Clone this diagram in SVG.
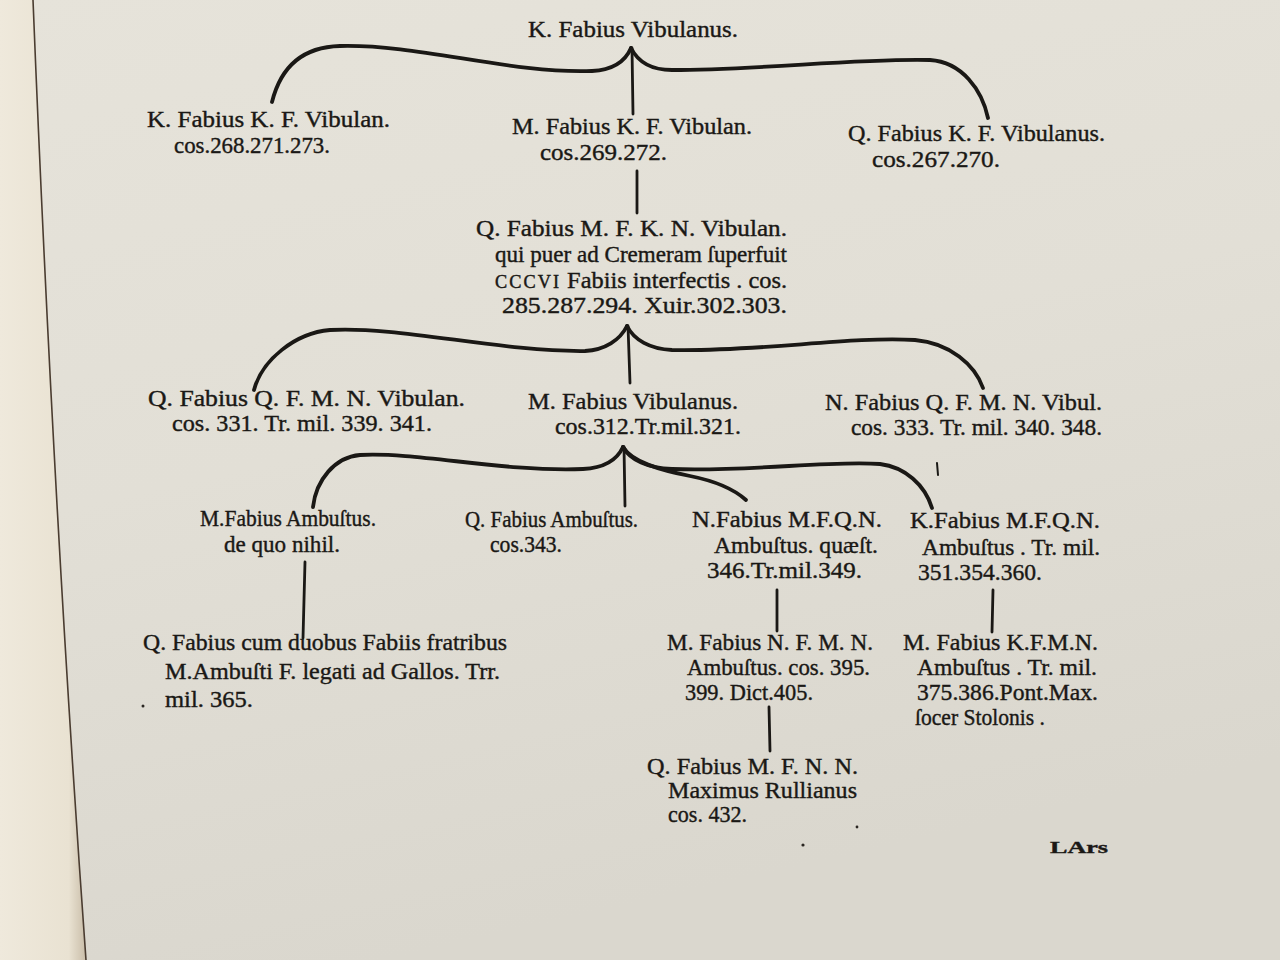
<svg xmlns="http://www.w3.org/2000/svg" width="1280" height="960" viewBox="0 0 1280 960">
<defs>
<linearGradient id="paper" x1="0" y1="0" x2="0.3" y2="1">
<stop offset="0" stop-color="#e6e3da"/>
<stop offset="0.5" stop-color="#e2dfd6"/>
<stop offset="1" stop-color="#dad7ce"/>
</linearGradient>
<linearGradient id="leftpage" x1="0" y1="0" x2="1" y2="0">
<stop offset="0" stop-color="#efe9dc"/>
<stop offset="0.8" stop-color="#e9e2d2"/>
<stop offset="1" stop-color="#c9bda8"/>
</linearGradient>
<style>
.t{font-family:"Liberation Serif","Times New Roman",serif;font-size:24px;fill:#1a1815;stroke:#1a1815;stroke-width:0.4}
.sc{font-size:18px;letter-spacing:2px}
.c{fill:none;stroke:#1a1815;stroke-linecap:round;stroke-linejoin:round}
.br{stroke-width:3.8}
.v{stroke-width:2.8}
.mark{fill:#2a2622}
</style>
</defs>
<rect width="1280" height="960" fill="url(#paper)"/>
<path d="M0,0 L33,0 C45,300 60,600 86,960 L0,960 Z" fill="url(#leftpage)"/>
<path d="M33,0 C45,300 60,600 86,960" fill="none" stroke="#4a3c30" stroke-width="1.6"/>

<g id="connectors">
<path class="c br" d="M631,48 C625,62 612,70 592,71 C510,74 420,44 340,46 C300,47 280,70 272,102"/>
<path class="c br" d="M631,48 C638,62 652,70 672,70 C760,70 860,58 930,60 C962,62 982,90 988,118"/>
<path class="c v" d="M632,48 L633,114"/>
<path class="c v" d="M637,171 L637,213"/>
<path class="c br" d="M627,326 C620,340 605,350 585,351 C500,352 400,326 330,330 C295,333 262,360 254,390"/>
<path class="c br" d="M627,326 C634,340 650,349 672,350 C760,352 850,336 915,340 C950,343 975,365 983,388"/>
<path class="c v" d="M628,326 L630,383"/>
<path class="c br" d="M623,447 C617,460 603,468 583,469 C500,472 420,452 360,455 C335,457 316,480 313,507"/>
<path class="c br" d="M623,447 C630,460 648,468 672,469 C750,472 830,460 880,464 C905,467 925,485 932,508"/>
<path class="c br" d="M623,447 C632,462 660,470 690,476 C715,481 735,490 746,500"/>
<path class="c v" d="M624,447 L625,506"/>
<path class="c v" d="M305,562 L303,638"/>
<path class="c v" d="M777,590 L777,631"/>
<path class="c v" d="M993,590 L992,632"/>
<path class="c v" d="M769,707 L770,751"/>
</g>

<g id="n0"><text class="t" x="528" y="37" textLength="210" lengthAdjust="spacingAndGlyphs">K. Fabius Vibulanus.</text></g>

<g id="n1">
<text class="t" x="147" y="127" textLength="243" lengthAdjust="spacingAndGlyphs">K. Fabius K. F. Vibulan.</text>
<text class="t" x="174" y="153" textLength="156" lengthAdjust="spacingAndGlyphs">cos.268.271.273.</text>
</g>
<g id="n2">
<text class="t" x="512" y="134" textLength="240" lengthAdjust="spacingAndGlyphs">M. Fabius K. F. Vibulan.</text>
<text class="t" x="540" y="160" textLength="127" lengthAdjust="spacingAndGlyphs">cos.269.272.</text>
</g>
<g id="n3">
<text class="t" x="848" y="141" textLength="257" lengthAdjust="spacingAndGlyphs">Q. Fabius K. F. Vibulanus.</text>
<text class="t" x="872" y="167" textLength="128" lengthAdjust="spacingAndGlyphs">cos.267.270.</text>
</g>
<g id="n4">
<text class="t" x="476" y="236" textLength="311" lengthAdjust="spacingAndGlyphs">Q. Fabius M. F. K. N. Vibulan.</text>
<text class="t" x="495" y="262" textLength="292" lengthAdjust="spacingAndGlyphs">qui puer ad Cremeram ſuperfuit</text>
<text class="t" x="495" y="288" textLength="292" lengthAdjust="spacingAndGlyphs"><tspan class="sc">CCCVI</tspan> Fabiis interfectis . cos.</text>
<text class="t" x="502" y="313" textLength="285" lengthAdjust="spacingAndGlyphs">285.287.294. Xuir.302.303.</text>
</g>
<g id="n5">
<text class="t" x="148" y="406" textLength="317" lengthAdjust="spacingAndGlyphs">Q. Fabius Q. F. M. N. Vibulan.</text>
<text class="t" x="172" y="431" textLength="260" lengthAdjust="spacingAndGlyphs">cos. 331. Tr. mil. 339. 341.</text>
</g>
<g id="n6">
<text class="t" x="528" y="409" textLength="210" lengthAdjust="spacingAndGlyphs">M. Fabius Vibulanus.</text>
<text class="t" x="555" y="434" textLength="186" lengthAdjust="spacingAndGlyphs">cos.312.Tr.mil.321.</text>
</g>
<g id="n7">
<text class="t" x="825" y="410" textLength="277" lengthAdjust="spacingAndGlyphs">N. Fabius Q. F. M. N. Vibul.</text>
<text class="t" x="851" y="435" textLength="251" lengthAdjust="spacingAndGlyphs">cos. 333. Tr. mil. 340. 348.</text>
</g>
<g id="n8">
<text class="t" x="200" y="526" textLength="176" lengthAdjust="spacingAndGlyphs">M.Fabius Ambuſtus.</text>
<text class="t" x="224" y="552" textLength="116" lengthAdjust="spacingAndGlyphs">de quo nihil.</text>
</g>
<g id="n9">
<text class="t" x="465" y="527" textLength="173" lengthAdjust="spacingAndGlyphs">Q. Fabius Ambuſtus.</text>
<text class="t" x="490" y="552" textLength="72" lengthAdjust="spacingAndGlyphs">cos.343.</text>
</g>
<g id="n10">
<text class="t" x="692" y="527" textLength="190" lengthAdjust="spacingAndGlyphs">N.Fabius M.F.Q.N.</text>
<text class="t" x="714" y="553" textLength="164" lengthAdjust="spacingAndGlyphs">Ambuſtus. quæſt.</text>
<text class="t" x="707" y="578" textLength="155" lengthAdjust="spacingAndGlyphs">346.Tr.mil.349.</text>
</g>
<g id="n11">
<text class="t" x="910" y="528" textLength="190" lengthAdjust="spacingAndGlyphs">K.Fabius M.F.Q.N.</text>
<text class="t" x="922" y="555" textLength="178" lengthAdjust="spacingAndGlyphs">Ambuſtus . Tr. mil.</text>
<text class="t" x="918" y="580" textLength="124" lengthAdjust="spacingAndGlyphs">351.354.360.</text>
</g>
<g id="n12">
<text class="t" x="143" y="650" textLength="364" lengthAdjust="spacingAndGlyphs">Q. Fabius cum duobus Fabiis fratribus</text>
<text class="t" x="165" y="679" textLength="335" lengthAdjust="spacingAndGlyphs">M.Ambuſti F. legati ad Gallos. Trr.</text>
<text class="t" x="165" y="707" textLength="88" lengthAdjust="spacingAndGlyphs">mil. 365.</text>
</g>
<g id="n13">
<text class="t" x="667" y="650" textLength="206" lengthAdjust="spacingAndGlyphs">M. Fabius N. F. M. N.</text>
<text class="t" x="687" y="675" textLength="183" lengthAdjust="spacingAndGlyphs">Ambuſtus. cos. 395.</text>
<text class="t" x="685" y="700" textLength="128" lengthAdjust="spacingAndGlyphs">399. Dict.405.</text>
</g>
<g id="n14">
<text class="t" x="903" y="650" textLength="195" lengthAdjust="spacingAndGlyphs">M. Fabius K.F.M.N.</text>
<text class="t" x="917" y="675" textLength="180" lengthAdjust="spacingAndGlyphs">Ambuſtus . Tr. mil.</text>
<text class="t" x="917" y="700" textLength="181" lengthAdjust="spacingAndGlyphs">375.386.Pont.Max.</text>
<text class="t" x="915" y="725" textLength="130" lengthAdjust="spacingAndGlyphs">ſocer Stolonis .</text>
</g>
<g id="n15">
<text class="t" x="647" y="774" textLength="211" lengthAdjust="spacingAndGlyphs">Q. Fabius M. F. N. N.</text>
<text class="t" x="668" y="798" textLength="189" lengthAdjust="spacingAndGlyphs">Maximus Rullianus</text>
<text class="t" x="668" y="822" textLength="79" lengthAdjust="spacingAndGlyphs">cos. 432.</text>
</g>
<g id="catchword"><text class="t" x="1050" y="853" textLength="58" lengthAdjust="spacingAndGlyphs" style="font-size:17px;font-weight:bold">LArs</text></g>
<g id="specks">
<path class="c" stroke-width="2" d="M937,463 L938,475"/>
<circle class="mark" cx="143" cy="706" r="1.5"/>
<circle class="mark" cx="803" cy="845" r="1.6"/>
<circle class="mark" cx="857" cy="827" r="1.4"/>
</g>
</svg>
